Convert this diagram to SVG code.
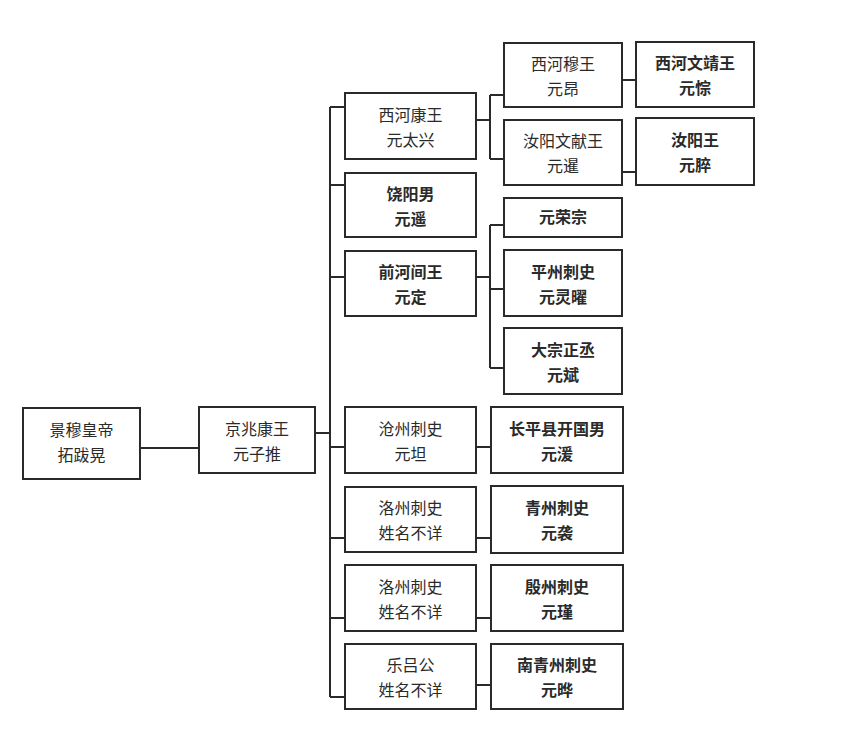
<svg xmlns="http://www.w3.org/2000/svg" width="865" height="738" viewBox="0 0 865 738">
<style>
.b{fill:#fff;stroke:#2a2a2a;stroke-width:2}
.t{font-family:"Noto Sans CJK SC","Noto Sans CJK TC",sans-serif;font-size:16px;fill:#2a2a2a;text-anchor:middle}
.bd{font-weight:bold}
.c{fill:none;stroke:#2a2a2a;stroke-width:2}
</style>
<rect width="865" height="738" fill="#fff"/>
<g id="connectors">
<path class="c" d="M140,448 H199"/>
<path class="c" d="M315,433 H330"/>
<path class="c" d="M330,107 V697"/>
<path class="c" d="M330,107 H345 M330,185 H345 M330,277 H345 M330,447 H345 M330,538 H345 M330,618 H345 M330,697 H345"/>
<path class="c" d="M476,120 H490 M490,95 V159 M490,95 H504 M490,159 H504"/>
<path class="c" d="M622,80 H636 M622,172 H636"/>
<path class="c" d="M476,277 H490 M490,225 V368 M490,225 H504 M490,289 H504 M490,368 H504"/>
<path class="c" d="M476,447 H491 M476,538 H491 M476,618 H491 M476,685 H491"/>
</g>
<g id="n1"><rect class="b" x="23" y="408" width="117" height="71"/><text class="t" x="81.5" y="436">景穆皇帝</text><text class="t" x="81.5" y="461">拓跋晃</text></g>
<g id="n2"><rect class="b" x="199" y="407" width="116" height="66"/><text class="t" x="257" y="435">京兆康王</text><text class="t" x="257" y="460">元子推</text></g>
<g id="n3"><rect class="b" x="345" y="93" width="131" height="66"/><text class="t" x="410.5" y="121">西河康王</text><text class="t" x="410.5" y="146">元太兴</text></g>
<g id="n4"><rect class="b" x="345" y="173" width="131" height="64"/><text class="t bd" x="410.5" y="200">饶阳男</text><text class="t bd" x="410.5" y="225">元遥</text></g>
<g id="n5"><rect class="b" x="345" y="251" width="131" height="65"/><text class="t bd" x="410.5" y="278">前河间王</text><text class="t bd" x="410.5" y="303">元定</text></g>
<g id="n6"><rect class="b" x="345" y="407" width="131" height="66"/><text class="t" x="410.5" y="435">沧州刺史</text><text class="t" x="410.5" y="460">元坦</text></g>
<g id="n7"><rect class="b" x="345" y="487" width="131" height="65"/><text class="t" x="410.5" y="514">洛州刺史</text><text class="t" x="410.5" y="539">姓名不详</text></g>
<g id="n8"><rect class="b" x="345" y="565" width="131" height="66"/><text class="t" x="410.5" y="593">洛州刺史</text><text class="t" x="410.5" y="618">姓名不详</text></g>
<g id="n9"><rect class="b" x="345" y="644" width="131" height="65"/><text class="t" x="410.5" y="671">乐吕公</text><text class="t" x="410.5" y="696">姓名不详</text></g>
<g id="n10"><rect class="b" x="504" y="43" width="118" height="64"/><text class="t" x="563" y="70">西河穆王</text><text class="t" x="563" y="95">元昂</text></g>
<g id="n11"><rect class="b" x="504" y="120" width="118" height="65"/><text class="t" x="563" y="147">汝阳文献王</text><text class="t" x="563" y="172">元暹</text></g>
<g id="n12"><rect class="b" x="636" y="42" width="118" height="65"/><text class="t bd" x="695" y="69">西河文靖王</text><text class="t bd" x="695" y="94">元悰</text></g>
<g id="n13"><rect class="b" x="636" y="118" width="118" height="67"/><text class="t bd" x="695" y="146">汝阳王</text><text class="t bd" x="695" y="171">元脺</text></g>
<g id="n14"><rect class="b" x="504" y="198" width="118" height="39"/><text class="t bd" x="563" y="223">元荣宗</text></g>
<g id="n15"><rect class="b" x="504" y="250" width="118" height="66"/><text class="t bd" x="563" y="278">平州刺史</text><text class="t bd" x="563" y="303">元灵曜</text></g>
<g id="n16"><rect class="b" x="504" y="328" width="118" height="66"/><text class="t bd" x="563" y="356">大宗正丞</text><text class="t bd" x="563" y="381">元斌</text></g>
<g id="n17"><rect class="b" x="491" y="407" width="132" height="66"/><text class="t bd" x="557" y="435">长平县开国男</text><text class="t bd" x="557" y="460">元湲</text></g>
<g id="n18"><rect class="b" x="491" y="486" width="132" height="67"/><text class="t bd" x="557" y="514">青州刺史</text><text class="t bd" x="557" y="539">元袭</text></g>
<g id="n19"><rect class="b" x="491" y="565" width="132" height="66"/><text class="t bd" x="557" y="593">殷州刺史</text><text class="t bd" x="557" y="618">元瑾</text></g>
<g id="n20"><rect class="b" x="491" y="644" width="132" height="65"/><text class="t bd" x="557" y="671">南青州刺史</text><text class="t bd" x="557" y="696">元晔</text></g>
</svg>
